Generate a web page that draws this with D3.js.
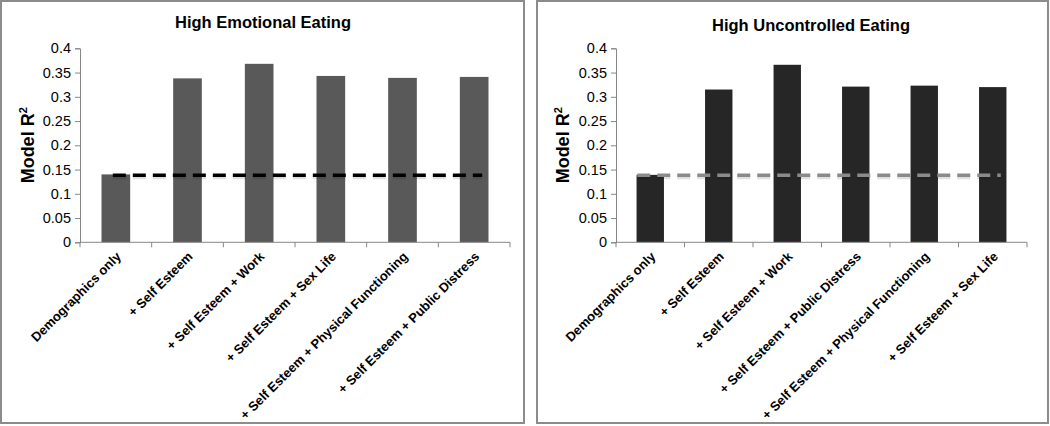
<!DOCTYPE html>
<html>
<head>
<meta charset="utf-8">
<script src="https://cdn.jsdelivr.net/npm/d3@7"></script>
<style>
  html, body { margin: 0; padding: 0; background: #fff; }
  svg text { font-family: "Liberation Sans", Arial, sans-serif; }
</style>
</head>
<body>
<svg id="chart" width="1050" height="426"></svg>
<script>
// ---------- DATA ----------
const leftTitle = "High Emotional Eating";
const leftCategories = ["Demographics only", "+ Self Esteem", "+ Self Esteem + Work", "+ Self Esteem + Sex Life", "+ Self Esteem + Physical Functioning", "+ Self Esteem + Public Distress"];
const leftValues = [0.140, 0.338, 0.368, 0.343, 0.339, 0.341];
const leftBaseline = 0.138;

const rightTitle = "High Uncontrolled Eating";
const rightCategories = ["Demographics only", "+ Self Esteem", "+ Self Esteem + Work", "+ Self Esteem + Public Distress", "+ Self Esteem + Physical Functioning", "+ Self Esteem + Sex Life"];
const rightValues = [0.139, 0.315, 0.366, 0.321, 0.323, 0.320];
const rightBaseline = 0.138;

const yTicks = [0, 0.05, 0.1, 0.15, 0.2, 0.25, 0.3, 0.35, 0.4];
const yTickLabels = ["0", "0.05", "0.1", "0.15", "0.2", "0.25", "0.3", "0.35", "0.4"];
const yLabel = "Model R";

// ---------- LAYOUT ----------
const svg = d3.select("#chart");

const panels = [
  { title: leftTitle, cats: leftCategories, vals: leftValues, base: leftBaseline,
    box: [1, 1, 523, 422], x0: 80, x1: 510, titleX: 263, titleY: 28, ylabX: 28,
    barColor: "#595959", lineColor: "#000000", lineStart: -3, lineEnd: 8 },
  { title: rightTitle, cats: rightCategories, vals: rightValues, base: rightBaseline,
    box: [537, 1, 511, 422], x0: 616, x1: 1027, titleX: 811, titleY: 31, ylabX: 563,
    barColor: "#262626", lineColor: "#8a8a8a", lineStart: -13, lineEnd: 8 }
];

const yTop = 48.3, yBottom = 242.3;
const axisColor = "#868686";

panels.forEach(p => {
  const g = svg.append("g");
  // panel border
  g.append("rect")
    .attr("x", p.box[0]).attr("y", p.box[1])
    .attr("width", p.box[2]).attr("height", p.box[3])
    .attr("fill", "#fff").attr("stroke", "#8c8c8c").attr("stroke-width", 2);

  const x = d3.scaleBand().domain(p.cats).range([p.x0, p.x1]).paddingInner(0).paddingOuter(0);
  const y = d3.scaleLinear().domain([0, 0.4]).range([yBottom, yTop]);
  const barW = x.bandwidth() * 0.4;

  // bars
  g.selectAll("rect.bar").data(p.vals).enter().append("rect")
    .attr("class", "bar")
    .attr("x", (d, i) => x(p.cats[i]) + (x.bandwidth() - barW) / 2)
    .attr("y", d => y(d))
    .attr("width", barW)
    .attr("height", d => yBottom - y(d))
    .attr("fill", p.barColor);

  // y axis
  const yAxis = d3.axisLeft(y).tickValues(yTicks)
    .tickFormat((d, i) => yTickLabels[i]).tickSize(5).tickPadding(4);
  const ya = g.append("g").attr("transform", `translate(${p.x0},0)`).call(yAxis);
  ya.select(".domain").attr("stroke", axisColor);
  ya.selectAll(".tick line").attr("stroke", axisColor);
  ya.selectAll(".tick text").attr("font-size", 14.5).attr("fill", "#000")
    .attr("font-family", "Liberation Sans, Arial, sans-serif");

  // x axis
  const xa = g.append("g").attr("transform", `translate(0,${yBottom})`);
  xa.append("line").attr("x1", p.x0).attr("x2", p.x1).attr("y1", 0).attr("y2", 0)
    .attr("stroke", axisColor);
  const bounds = p.cats.map(c => x(c)).concat([p.x1]);
  xa.selectAll("line.tk").data(bounds).enter().append("line")
    .attr("class", "tk")
    .attr("x1", d => d).attr("x2", d => d).attr("y1", 0).attr("y2", 5)
    .attr("stroke", axisColor);
  xa.selectAll("text").data(p.cats).enter().append("text")
    .attr("transform", d => `translate(${x(d) + x.bandwidth() / 2 + 6},${15}) rotate(-45)`)
    .attr("text-anchor", "end")
    .attr("font-size", 13).attr("font-weight", "bold").attr("fill", "#000")
    .text(d => d);

  // baseline dashed line
  const lineData = [
    [x(p.cats[0]) + x.bandwidth() / 2 + p.lineStart, y(p.base)],
    [x(p.cats[p.cats.length - 1]) + x.bandwidth() / 2 + p.lineEnd, y(p.base)]
  ];
  g.append("path").attr("d", d3.line()(lineData.map(d => [d[0], d[1] + 2])))
    .attr("stroke", "#000").attr("stroke-opacity", 0.12).attr("stroke-width", 4)
    .attr("stroke-dasharray", "13,7").attr("fill", "none");
  g.append("path").attr("d", d3.line()(lineData))
    .attr("stroke", p.lineColor).attr("stroke-width", 3.5)
    .attr("stroke-dasharray", "13,7").attr("fill", "none");

  // title
  g.append("text").attr("x", p.titleX).attr("y", p.titleY)
    .attr("text-anchor", "middle").attr("font-size", 16.5).attr("font-weight", "bold")
    .text(p.title);

  // y label
  const yl = g.append("text")
    .attr("transform", `translate(${p.ylabX + 6},${(yTop + yBottom) / 2}) rotate(-90)`)
    .attr("text-anchor", "middle").attr("font-size", 18).attr("font-weight", "bold");
  yl.append("tspan").text(yLabel);
  yl.append("tspan").attr("font-size", 11).attr("dy", -7).text("2");
});
</script>
</body>
</html>
